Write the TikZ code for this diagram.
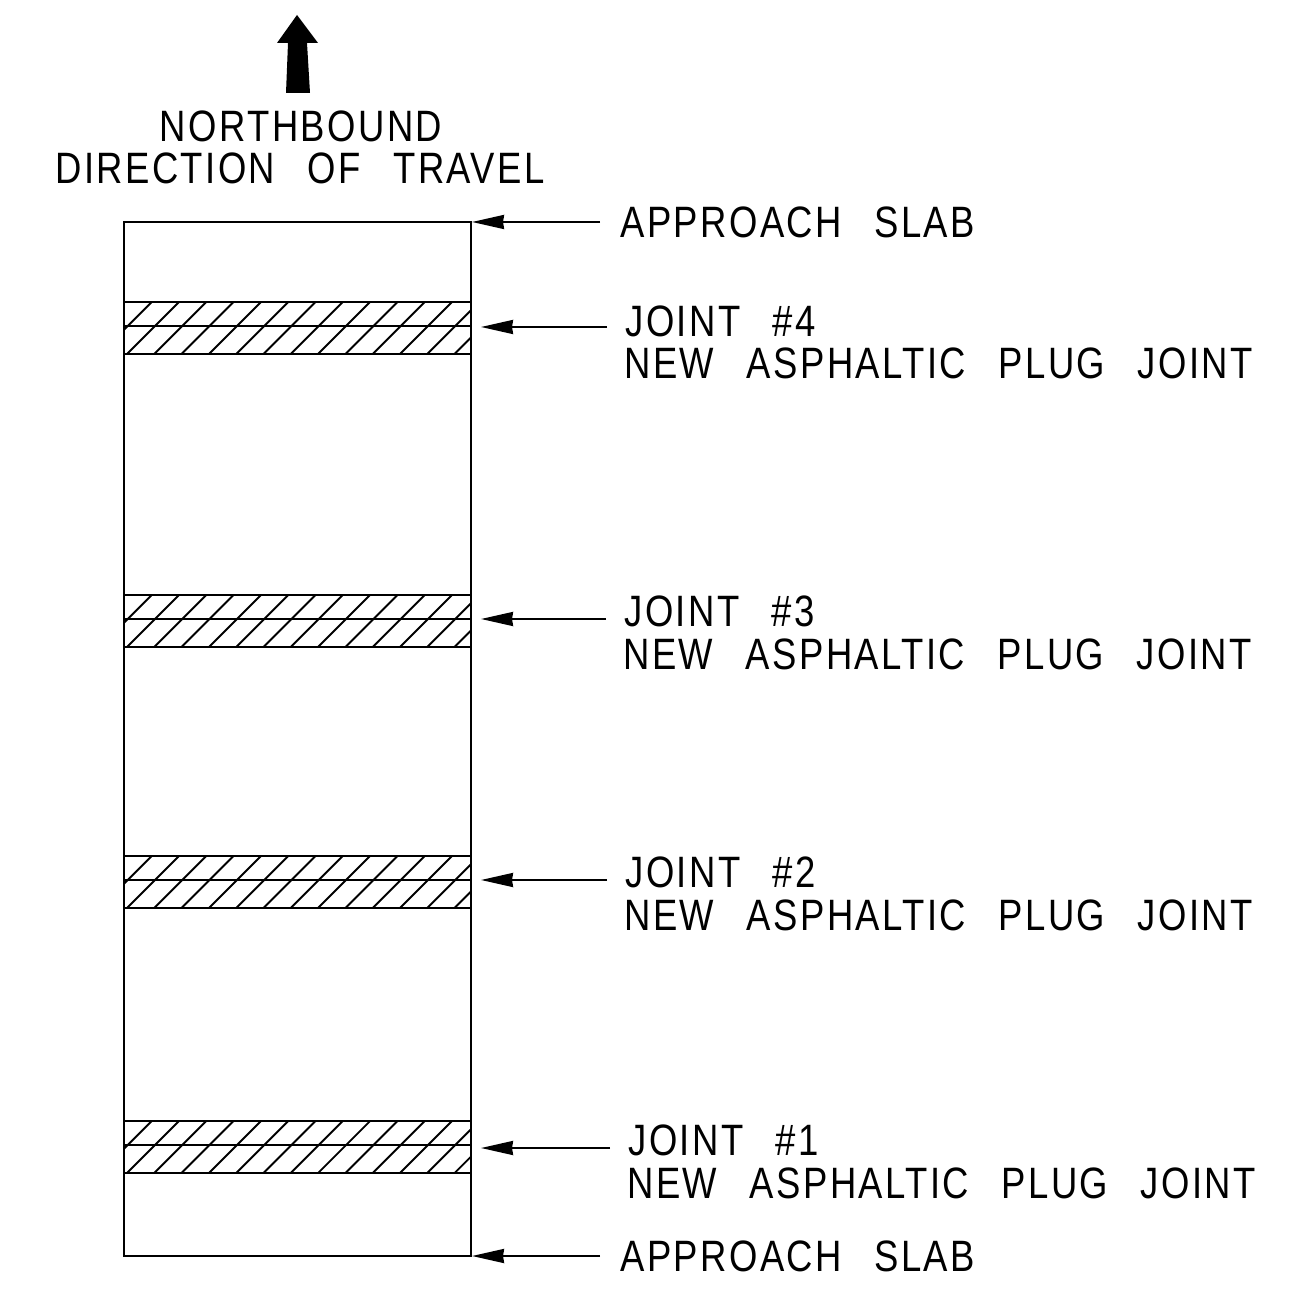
\documentclass[tikz,border=0pt]{standalone}
\usepackage{fontspec}
\setmainfont{Liberation Sans}[FakeStretch=0.83,LetterSpace=5.5,WordSpace=2.6]
\usetikzlibrary{arrows.meta}

\begin{document}
\begin{tikzpicture}[label/.style={inner sep=0pt,font=\fontsize{25}{25}\selectfont},
  line/.style={line width=1.3pt},
  leader/.style={line width=1.2pt,-{Stealth[length=0.64cm,width=0.28cm,inset=0.02cm]}},
  hatch/.style={line width=1.1pt}]
\useasboundingbox (0,0) rectangle (26.02,25.8);

% north arrow
\fill (5.94,25.5) -- (6.36,24.94) -- (6.14,24.94) -- (6.2,23.94)
      -- (5.72,23.94) -- (5.76,24.94) -- (5.54,24.94) -- cycle;
\node[label] (north) at (6.02,23.28) {NORTHBOUND};
\node[label] (travel) at (6.0,22.44) {DIRECTION OF TRAVEL};

% joints
\foreach \name/\ymid/\ylead/\xtext/\ytop/\ybot/\num in
  {d/19.28/19.26/12.48/19.38/18.54/4, c/13.42/13.42/12.46/13.58/12.72/3,
   b/8.2/8.2/12.48/8.36/7.5/2, a/2.9/2.84/12.54/3.0/2.14/1} {
  \begin{scope}
    \clip (2.48,\ymid-0.56) rectangle (9.42,\ymid+0.48);
    \foreach \i in {-2,...,13}
      \draw[hatch] (2.5+\i*0.546,\ymid-0.6) -- ++(1.12,1.12);
  \end{scope}
  \draw[line] (2.48,\ymid-0.56) rectangle (9.42,\ymid+0.48)
              (2.48,\ymid) -- (9.42,\ymid);
  \node[label,anchor=west] (joint\name) at (\xtext+0.02,\ytop) {JOINT \#\num};
  \node[label,anchor=west] (plug\name) at (\xtext,\ybot) {NEW ASPHALTIC PLUG JOINT};
  \coordinate (from\name) at (\xtext-0.34,\ylead);
  \coordinate (to\name) at (9.62,\ylead);
  \draw[leader] (from\name) -- (to\name);
}

% slab
\draw[line] (2.48,0.68) rectangle (9.42,21.36);
\node[label,anchor=west] (slabtop) at (12.4,21.36) {APPROACH SLAB};
\node[label,anchor=west] (slabbot) at (12.4,0.68) {APPROACH SLAB};
\coordinate (fromtop) at (12.0,21.36);
\coordinate (totop) at (9.44,21.36);
\coordinate (frombot) at (12.0,0.68);
\coordinate (tobot) at (9.44,0.68);
\draw[leader] (fromtop) -- (totop);
\draw[leader] (frombot) -- (tobot);
\end{tikzpicture}
\end{document}
